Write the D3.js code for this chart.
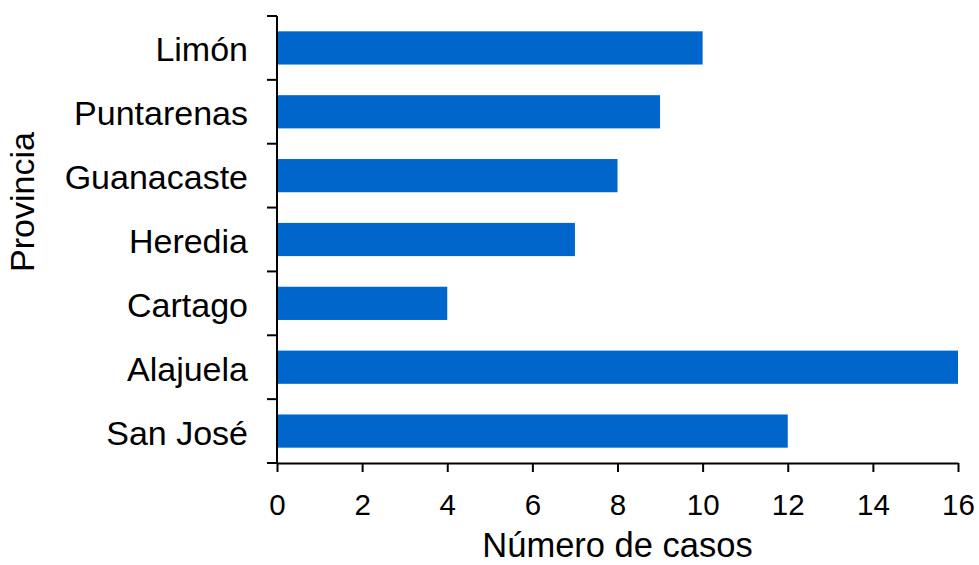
<!DOCTYPE html>
<html><head><meta charset="utf-8">
<script src="https://cdn.jsdelivr.net/npm/d3@7"></script>
<style>body{margin:0;background:#fff}svg{display:block}text{font-family:"Liberation Sans",Arial,sans-serif;fill:#000}</style>
</head><body>
<svg id="c" width="979" height="565"></svg>
<script>
const categories = ["Limón","Puntarenas","Guanacaste","Heredia","Cartago","Alajuela","San José"];
const values = [10, 9, 8, 7, 4, 16, 12];
const xTicks = [0,2,4,6,8,10,12,14,16];
const xTitle = "Número de casos";
const yTitle = "Provincia";

const svg = d3.select("#c");
const L = 277, R = 958, T = 16, B = 463;
const x = d3.scaleLinear().domain([0,16]).range([L,R]);
const y = d3.scaleBand().domain(categories).range([T,B]).paddingInner(0.48).paddingOuter(0.24);

svg.selectAll("rect.bar").data(categories).join("rect")
  .attr("class","bar")
  .attr("x", x(0)).attr("y", d => y(d))
  .attr("width", (d,i) => x(values[i]) - x(0))
  .attr("height", y.bandwidth())
  .attr("fill", "#0066cc");

// x axis
const xa = svg.append("g").attr("transform", `translate(0,${B})`)
  .call(d3.axisBottom(x).tickValues(xTicks).tickSize(9).tickSizeOuter(0).tickPadding(22));
xa.select(".domain").attr("stroke","#000").attr("stroke-width",2);
xa.selectAll(".tick line").attr("stroke","#000").attr("stroke-width",2);
xa.selectAll(".tick text").style("font-size","29.5px").attr("fill","#000").attr("dy","0.71em");

// y axis: line plus boundary ticks
svg.append("line").attr("x1",L).attr("x2",L).attr("y1",T).attr("y2",B+1)
  .attr("stroke","#000").attr("stroke-width",2);
svg.selectAll("line.ytick").data(d3.range(categories.length+1)).join("line")
  .attr("class","ytick")
  .attr("x1",L-10).attr("x2",L)
  .attr("y1", i => T + i*(B-T)/categories.length)
  .attr("y2", i => T + i*(B-T)/categories.length)
  .attr("stroke","#000").attr("stroke-width",2);

svg.selectAll("text.ylab").data(categories).join("text")
  .attr("class","ylab")
  .attr("x", 248).attr("y", d => y(d) + y.bandwidth()/2 + 13.5)
  .attr("text-anchor","end").style("font-size","34px").text(d => d);

svg.append("text").attr("x",(L+R)/2).attr("y",557).attr("text-anchor","middle")
  .style("font-size","34.5px").text(xTitle);
svg.append("text").attr("transform",`translate(34,202) rotate(-90)`).attr("text-anchor","middle")
  .style("font-size","34px").text(yTitle);
</script>
</body></html>
